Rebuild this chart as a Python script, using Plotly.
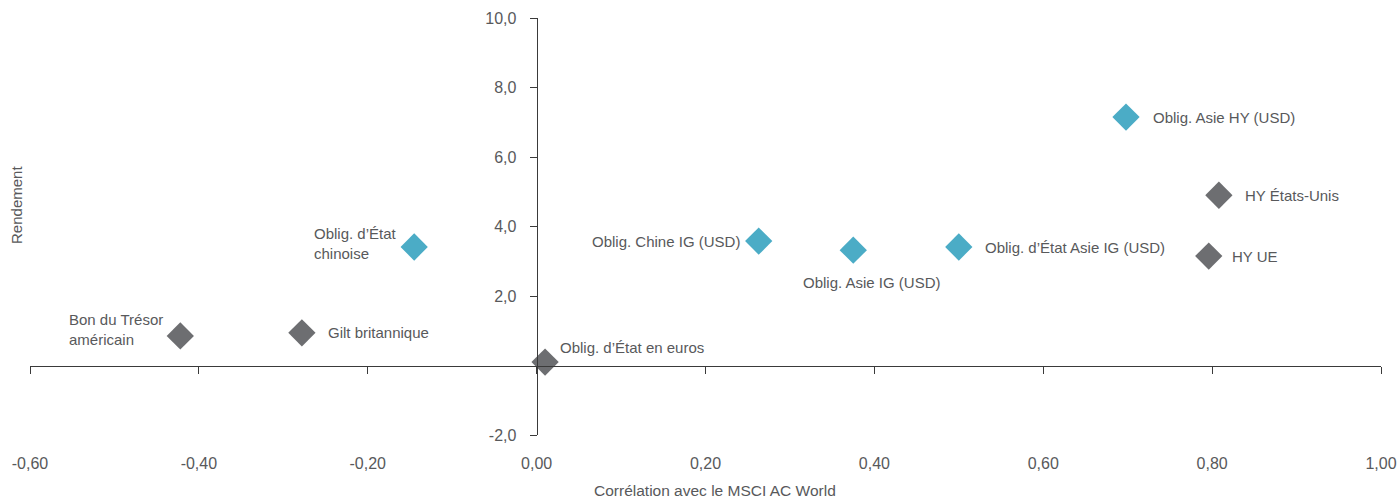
import plotly.graph_objects as go

# ---- data ----
labels = [
    "Bon du Trésor<br>américain",
    "Gilt britannique",
    "Oblig. d’État<br>chinoise",
    "Oblig. d’État en euros",
    "Oblig. Chine IG (USD)",
    "Oblig. Asie IG (USD)",
    "Oblig. d’État Asie IG (USD)",
    "Oblig. Asie HY (USD)",
    "HY États-Unis",
    "HY UE",
]
correlation = [-0.422, -0.278, -0.145, 0.010, 0.263, 0.375, 0.500, 0.698, 0.808, 0.796]
rendement = [0.85, 0.94, 3.41, 0.10, 3.58, 3.32, 3.41, 7.15, 4.90, 3.15]
group = ["dev", "dev", "asia", "dev", "asia", "asia", "asia", "asia", "dev", "dev"]

x_ticks = [-0.6, -0.4, -0.2, 0.0, 0.2, 0.4, 0.6, 0.8, 1.0]
x_ticktext = ["-0,60", "-0,40", "-0,20", "0,00", "0,20", "0,40", "0,60", "0,80", "1,00"]
y_ticks = [-2, 2, 4, 6, 8, 10]
y_ticktext = ["-2,0", "2,0", "4,0", "6,0", "8,0", "10,0"]
x_title = "Corrélation avec le MSCI AC World"
y_title = "Rendement"

# ---- style ----
colors = {"dev": "#6d6e71", "asia": "#4bacc6"}
# (xanchor, xshift, yshift) per label
placement = [
    ("right", -15, 6),
    ("left", 24, 0),
    ("right", -15, 4),
    ("left", 13, 15),
    ("right", -17, 0),
    ("center", 19, -32),
    ("left", 24, 0),
    ("left", 25, 0),
    ("left", 24, 0),
    ("left", 21, 0),
]
FONT = "Liberation Sans, Arial, sans-serif"
TXT = "#58595b"
AX = "#3a3a3a"

W, H = 1398, 499
mt, mb, ml, mr = 18, 47, 30, 17
xr = [-0.6, 1.0]
yr = [-2, 10]
plot_h = H - mt - mb
y_dom0 = (H - mb - 435) / plot_h
y0_paper = y_dom0 + (0 - yr[0]) / (yr[1] - yr[0]) * (1 - y_dom0)
x0_paper = (0 - xr[0]) / (xr[1] - xr[0])

fig = go.Figure()
fig.add_trace(go.Scatter(
    x=correlation, y=rendement, mode="markers",
    marker=dict(symbol="diamond", size=21, color=[colors[g] for g in group],
                line=dict(width=0)),
    hoverinfo="skip", showlegend=False,
))

for lab, cx, cy, (xa, xs, ys) in zip(labels, correlation, rendement, placement):
    fig.add_annotation(x=cx, y=cy, xref="x", yref="y", text=lab, showarrow=False,
                       xanchor=xa, yanchor="middle", xshift=xs, yshift=ys,
                       align="left", font=dict(family=FONT, size=15, color=TXT))

fig.add_annotation(text=y_title, xref="paper", yref="paper", x=-0.0095, xanchor="center",
                   y=(y_dom0 + 1) / 2 + 0.05, yanchor="middle", textangle=-90, showarrow=False,
                   font=dict(family=FONT, size=15, color=TXT))
fig.add_annotation(text=x_title, xref="paper", yref="paper", x=0.5, xanchor="center",
                   xshift=9, y=0, yshift=-38, yanchor="middle", showarrow=False,
                   font=dict(family=FONT, size=15.5, color=TXT))

fig.update_layout(
    width=W, height=H, margin=dict(l=ml, r=mr, t=mt, b=mb),
    paper_bgcolor="white", plot_bgcolor="white",
    xaxis=dict(domain=[0, 1], range=xr, anchor="free", position=0, automargin=False,
               tickvals=x_ticks, ticktext=x_ticktext, showline=False, ticks="",
               showgrid=False, zeroline=False,
               tickfont=dict(family=FONT, size=16, color=TXT)),
    xaxis2=dict(overlaying="x", matches="x", range=xr, anchor="free", position=y0_paper,
                automargin=False,
                tickvals=x_ticks, showticklabels=False, showline=True, linecolor=AX,
                linewidth=1, ticks="outside", ticklen=7, tickcolor=AX,
                showgrid=False, zeroline=False),
    yaxis=dict(domain=[y_dom0, 1], range=yr, anchor="free", position=x0_paper,
               automargin=False,
               tickvals=y_ticks, ticktext=y_ticktext, showline=True, linecolor=AX,
               ticks="outside", ticklen=7, tickcolor=AX, showgrid=False, zeroline=False,
               ticklabelstandoff=10,
               tickfont=dict(family=FONT, size=16, color=TXT)),
)
# dummy trace to activate xaxis2
fig.add_trace(go.Scatter(x=[None], y=[None], xaxis="x2", yaxis="y", showlegend=False,
                         hoverinfo="skip"))

fig.write_html("out.html")
